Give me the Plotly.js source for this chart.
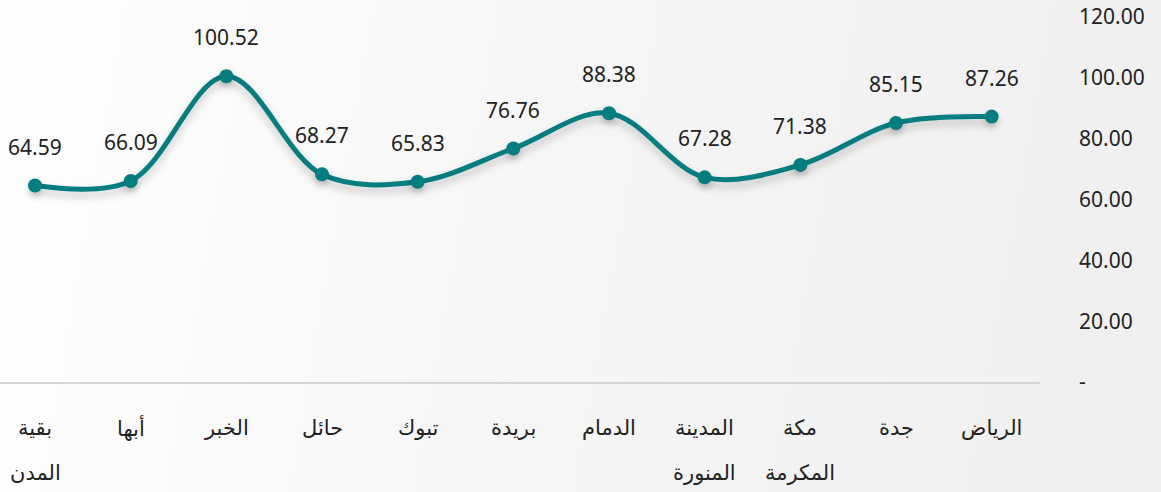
<!DOCTYPE html>
<html><head><meta charset="utf-8">
<script src="https://cdn.plot.ly/plotly-3.0.1.min.js"></script>
<style>
html,body{margin:0;padding:0;width:1161px;height:492px;overflow:hidden;
background:linear-gradient(100deg,#ffffff 0%,#f6f6f6 45%,#efefef 100%);}
#chart{width:1161px;height:492px;}
.scatterlayer .trace .js-line{filter:drop-shadow(0px 5px 4px rgba(0,0,0,0.22));}
.scatterlayer .trace .points path{filter:drop-shadow(0px 4px 3px rgba(0,0,0,0.2));}
</style></head>
<body><div id="chart"></div>
<script>
const categories = ["الرياض","جدة","مكة<br>المكرمة","المدينة<br>المنورة","الدمام","بريدة","تبوك","حائل","الخبر","أبها","بقية<br>المدن"];
const values = [87.26,85.15,71.38,67.28,88.38,76.76,65.83,68.27,100.52,66.09,64.59];
const yTickVals = [0,20,40,60,80,100,120];
const yTickText = ["-","20.00","40.00","60.00","80.00","100.00","120.00"];

const teal = "#047d80";
const txtColor = "#222222";
const fontFam = "'Noto Sans', 'Open Sans', 'DejaVu Sans', sans-serif";

const annotations = [];
values.forEach((v,i)=>{
  annotations.push({x:categories[i], y:v, xref:'x', yref:'y', text:v.toFixed(2),
    showarrow:false, yanchor:'middle', xanchor:'center', yshift:39,
    font:{family:fontFam,size:21,color:txtColor}});
});
categories.forEach((c,i)=>{
  c.split('<br>').forEach((line,j)=>{
    annotations.push({x:c, y:0, xref:'x', yref:'paper', text:line, showarrow:false,
      yanchor:'middle', xanchor:'center', yshift:-46 - j*45,
      font:{family:"'DejaVu Sans', sans-serif",size:21,color:txtColor}});
  });
});

const trace = {
  x: categories, y: values, type:'scatter', mode:'lines+markers',
  line:{color:teal, width:5, shape:'spline', smoothing:1},
  marker:{color:teal, size:14},
  hoverinfo:'skip', cliponaxis:false
};

const layout = {
  width:1161, height:492,
  margin:{l:0, r:121, t:17, b:110},
  paper_bgcolor:'rgba(0,0,0,0)', plot_bgcolor:'rgba(0,0,0,0)',
  showlegend:false,
  xaxis:{type:'category', range:[10.366,-0.505], showgrid:false, zeroline:false,
    showline:true, linecolor:'#d6d6d6', linewidth:2, showticklabels:false, ticks:''},
  yaxis:{side:'right', range:[0,120], tickvals:yTickVals, ticktext:yTickText,
    showgrid:false, zeroline:false, showline:false, ticks:'', ticklabelstandoff:38,
    tickfont:{family:fontFam,size:21,color:txtColor}},
  annotations: annotations
};
Plotly.newPlot('chart',[trace],layout,{displayModeBar:false,staticPlot:true});
</script></body></html>
